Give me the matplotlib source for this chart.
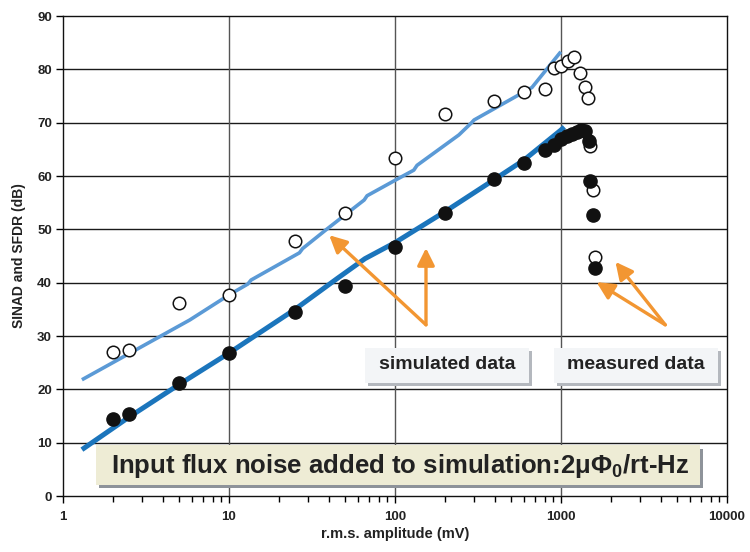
import matplotlib
matplotlib.use('Agg')
import matplotlib.pyplot as plt
from matplotlib.patches import Rectangle

plt.rcParams['mathtext.fontset'] = 'custom'
plt.rcParams['mathtext.rm'] = 'Liberation Sans'
plt.rcParams['mathtext.bf'] = 'Liberation Sans:bold'

# measured SFDR (open circles)
sfdr_x = [2, 2.5, 5, 10, 25, 50, 100, 200, 395, 604, 807, 905, 1000, 1104, 1206, 1297, 1403, 1455, 1497, 1553, 1596]
sfdr_y = [27.0, 27.4, 36.1, 37.7, 47.9, 53.1, 63.4, 71.7, 74.1, 75.7, 76.4, 80.2, 80.7, 81.6, 82.4, 79.4, 76.6, 74.6, 65.6, 57.4, 44.9]

# measured SINAD (filled circles)
sinad_x = [2, 2.5, 5, 10, 25, 50, 100, 200, 395, 600, 807, 910, 1000, 1089, 1167, 1250, 1327, 1403, 1469, 1497, 1553, 1596]
sinad_y = [14.5, 15.4, 21.2, 26.8, 34.5, 39.4, 46.7, 53.0, 59.4, 62.5, 64.8, 65.9, 66.9, 67.5, 67.9, 68.3, 68.6, 68.4, 66.6, 59.1, 52.7, 42.8]

# simulated lines
sim_sfdr_x = [1.3, 5.8, 10, 13, 13.6, 26.6, 27.8, 38.4, 65.3, 68, 101, 130, 136, 243, 290, 300, 670, 1000]
sim_sfdr_y = [21.8, 33.0, 37.7, 39.75, 40.5, 45.6, 46.4, 49.9, 55.5, 56.3, 59.25, 61.1, 62.0, 67.7, 70.0, 70.5, 76.6, 83.3]
sim_sinad_x = [1.3, 2.5, 5, 10, 25, 45, 66, 100, 200, 400, 600, 1000, 1050]
sim_sinad_y = [8.7, 14.8, 20.9, 26.8, 35.0, 40.8, 44.5, 47.5, 53.3, 59.4, 63.0, 68.6, 69.2]

# arrows: (tail x, tail y, head x, head y)
arrows = [(154, 32.1, 40.2, 48.9), (154, 32.1, 154, 46.5),
          (4260, 32.1, 2135, 43.9), (4260, 32.1, 1641, 40.1)]

font = ['Liberation Sans', 'DejaVu Sans']

fig = plt.figure(figsize=(7.5, 5.52), dpi=100)
ax = fig.add_axes([0.084, 0.1014, 0.885, 0.8696])
ax.set_xscale('log')
ax.set_xlim(1, 10000)
ax.set_ylim(0, 90)
ax.set_yticks(range(0, 91, 10))
ax.set_xticks([1, 10, 100, 1000, 10000])
ax.set_xticklabels(['1', '10', '100', '1000', '10000'])

for v in range(10, 90, 10):
    ax.axhline(v, color='#1a1a1a', lw=1.0, zorder=1)
for v in [10, 100, 1000]:
    ax.axvline(v, color='#555555', lw=1.0, zorder=1)

ax.plot(sim_sfdr_x, sim_sfdr_y, color='#5b9ad6', lw=2.6, zorder=3, solid_capstyle='butt')
ax.plot(sim_sinad_x, sim_sinad_y, color='#1b75bc', lw=3.6, zorder=3, solid_capstyle='butt')
ax.plot(sfdr_x, sfdr_y, 'o', ms=9, mfc='white', mec='#111111', mew=1.1, zorder=4)
ax.plot(sinad_x, sinad_y, 'o', ms=9.5, mfc='#111111', mec='#111111', zorder=5)

for tx, ty, hx, hy in arrows:
    ax.annotate('', xy=(hx, hy), xytext=(tx, ty),
                arrowprops=dict(arrowstyle='-|>', color='#f29632', lw=2.4,
                                mutation_scale=26, shrinkA=0, shrinkB=0),
                zorder=6)

ax.tick_params(axis='x', which='both', direction='out', length=5, width=1, pad=6)
ax.tick_params(axis='x', which='minor', length=4)
ax.tick_params(axis='y', direction='out', length=5, width=1, pad=3)
for lab in ax.get_xticklabels() + ax.get_yticklabels():
    lab.set_fontfamily(font)
    lab.set_fontweight('bold')
    lab.set_fontsize(9.5)
    lab.set_color('#222222')
for s in ax.spines.values():
    s.set_color('#111111')
    s.set_linewidth(1.0)

ax.set_ylabel('SINAD and SFDR (dB)', family=font, fontweight='bold', fontsize=10, color='#222222', labelpad=8)
ax.set_xlabel('r.m.s. amplitude (mV)', family=font, fontweight='bold', fontsize=10.5, color='#222222', labelpad=3)


def box(x0, y0, w, h, fc, sc):
    fig.patches.append(Rectangle((x0 + 0.004, y0 - 0.006), w, h, transform=fig.transFigure,
                                 fc=sc, ec='none', zorder=7, figure=fig))
    fig.patches.append(Rectangle((x0, y0), w, h, transform=fig.transFigure,
                                 fc=fc, ec='none', zorder=8, figure=fig))


box(0.487, 0.306, 0.218, 0.0634, '#f3f5f7', '#b4b8be')
box(0.739, 0.306, 0.218, 0.0634, '#f3f5f7', '#b4b8be')
box(0.128, 0.1215, 0.805, 0.072, '#eeecd5', '#8e939a')

fig.text(0.596, 0.339, 'simulated data', family=font, fontweight='bold', fontsize=14,
         color='#222222', ha='center', va='center', zorder=9)
fig.text(0.848, 0.339, 'measured data', family=font, fontweight='bold', fontsize=14,
         color='#222222', ha='center', va='center', zorder=9)
fig.text(0.533, 0.155, r'Input flux noise added to simulation:2μΦ$_\mathbf{0}$/rt-Hz',
         family=font, fontweight='bold', fontsize=18.5, color='#222222',
         ha='center', va='center', zorder=9)

fig.savefig('out.png', dpi=100)
